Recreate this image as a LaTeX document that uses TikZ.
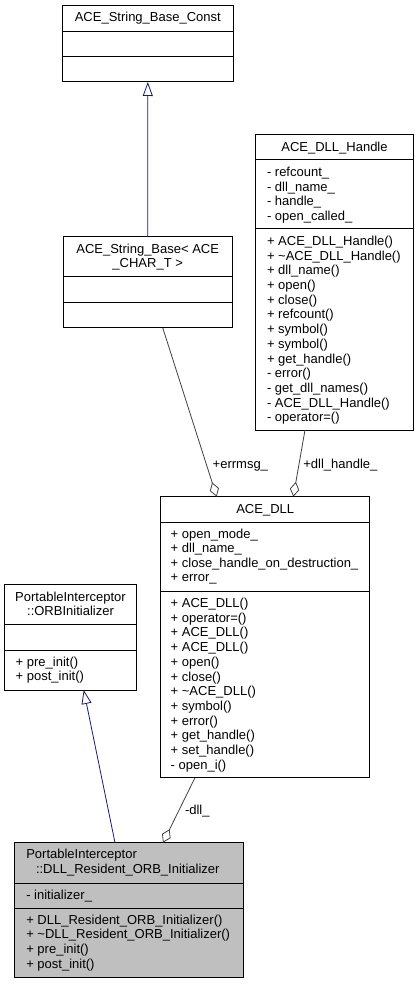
\documentclass[tikz,border=0pt]{standalone}
\usepackage{fontspec}
\setmainfont{Liberation Sans}
\usetikzlibrary{arrows.meta,calc}
\definecolor{navyline}{HTML}{191970}
\definecolor{grayline}{HTML}{404040}
\definecolor{grayfill}{HTML}{BFBFBF}
\tikzset{
  cls/.style={draw=black, line width=1pt, fill=white, rectangle, inner sep=0pt, outer sep=0pt, anchor=north west},
  divider/.style={draw=black, line width=1pt},
  txt/.style={font=\fontsize{13}{14.7}\selectfont, inner sep=0pt, outer sep=0pt},
  mem/.style={txt, anchor=base west},
  ttl/.style={txt, anchor=base},
  inh/.style={draw=navyline, line width=0.8pt, -{Triangle[open, length=14pt, width=10pt, line width=0.8pt]}},
  agg/.style={draw=grayline, line width=0.8pt, -{Diamond[open, length=15pt, width=9.5pt, line width=0.8pt]}},
  lbl/.style={txt, anchor=base west},
}
\begin{document}
\begin{tikzpicture}[x=1pt,y=-1pt]
\useasboundingbox (0,0) rectangle (419,984);

% ACE_String_Base_Const
\node[cls, minimum width=171pt, minimum height=76.3pt] (sbc) at (62.3,5.7) {};
\draw[divider] (62.3,31.3) -- (233.3,31.3);
\draw[divider] (62.3,56.7) -- (233.3,56.7);
\node[ttl] (sbc-t) at (147.8,22.0) {ACE\_String\_Base\_Const};

% ACE_String_Base< ACE_CHAR_T >
\node[cls, minimum width=168.7pt, minimum height=90.7pt] (sb) at (63.3,237) {};
\draw[divider] (63.3,276.7) -- (232,276.7);
\draw[divider] (63.3,302.3) -- (232,302.3);
\node[ttl] (sb-t1) at (147.7,253.0) {ACE\_String\_Base< ACE};
\node[ttl] (sb-t2) at (147.7,267.7) {\_CHAR\_T >};

% ACE_DLL_Handle
\node[cls, minimum width=157.6pt, minimum height=295pt] (dllh) at (255.7,135) {};
\draw[divider] (255.7,160) -- (413.3,160);
\draw[divider] (255.7,229) -- (413.3,229);
\node[ttl] (dllh-t) at (334.5,151.4) {ACE\_DLL\_Handle};
\foreach [count=\i] \t in {- refcount\_, - dll\_name\_, - handle\_, - open\_called\_}
  \node[mem] (dllh-a\i) at (267,{176.4+(\i-1)*14.67}) {\t};
\foreach [count=\i] \t in {+ ACE\_DLL\_Handle(), + \textasciitilde ACE\_DLL\_Handle(), + dll\_name(), + open(), + close(), + refcount(), + symbol(), + symbol(), + get\_handle(), - error(), - get\_dll\_names(), - ACE\_DLL\_Handle(), - operator=()}
  \node[mem] (dllh-m\i) at (267,{245.4+(\i-1)*14.7}) {\t};

% ACE_DLL
\node[cls, minimum width=209pt, minimum height=281pt] (dll) at (160.7,496.7) {};
\draw[divider] (160.7,522) -- (369.7,522);
\draw[divider] (160.7,591) -- (369.7,591);
\node[ttl] (dll-t) at (265.2,513.0) {ACE\_DLL};
\foreach [count=\i] \t in {+ open\_mode\_, + dll\_name\_, + close\_handle\_on\_destruction\_, + error\_}
  \node[mem] (dll-a\i) at (170.7,{538.4+(\i-1)*14.53}) {\t};
\foreach [count=\i] \t in {+ ACE\_DLL(), + operator=(), + ACE\_DLL(), + ACE\_DLL(), + open(), + close(), + \textasciitilde ACE\_DLL(), + symbol(), + error(), + get\_handle(), + set\_handle(), - open\_i()}
  \node[mem] (dll-m\i) at (170.7,{607.4+(\i-1)*14.73}) {\t};

% PortableInterceptor::ORBInitializer
\node[cls, minimum width=132.4pt, minimum height=105.3pt] (orb) at (4.3,584.7) {};
\draw[divider] (4.3,624.7) -- (136.7,624.7);
\draw[divider] (4.3,650) -- (136.7,650);
\node[ttl] (orb-t1) at (70.5,601.4) {PortableInterceptor};
\node[ttl] (orb-t2) at (70.5,615.0) {::ORBInitializer};
\foreach [count=\i] \t in {+ pre\_init(), + post\_init()}
  \node[mem] (orb-m\i) at (15.7,{666.2+(\i-1)*14.7}) {\t};

% PortableInterceptor::DLL_Resident_ORB_Initializer
\node[cls, fill=grayfill, minimum width=228.6pt, minimum height=134.6pt] (dri) at (14.7,842.7) {};
\draw[divider] (14.7,883.7) -- (243.3,883.7);
\draw[divider] (14.7,908.3) -- (243.3,908.3);
\node[mem] (dri-t1) at (26.3,858.7) {PortableInterceptor};
\node[mem] (dri-t2) at (36,873.7) {::DLL\_Resident\_ORB\_Initializer};
\node[mem] (dri-a1) at (26.3,899.7) {- initializer\_};
\foreach [count=\i] \t in {+ DLL\_Resident\_ORB\_Initializer(), + \textasciitilde DLL\_Resident\_ORB\_Initializer(), + pre\_init(), + post\_init()}
  \node[mem] (dri-m\i) at (26.3,{924.0+(\i-1)*14.8}) {\t};

% connectors
\draw[inh] (sb.north) -- (sbc.south);
\draw[inh] ($(dri.north west)+(100.3,0)$) -- ($(orb.south west)+(79.4,0)$);
\draw[agg] ($(sb.south west)+(99.4,0)$) -- ($(dll.north west)+(56,0)$);
\draw[agg] ($(dllh.south west)+(49.3,0)$) -- ($(dll.north west)+(132.6,0)$);
\draw[agg] ($(dll.south west)+(34.3,0)$) -- ($(dri.north west)+(148.3,0)$);

% labels
\node[lbl] (l-errmsg) at (212.7,468.0) {+errmsg\_};
\node[lbl] (l-dllh) at (303.3,468.0) {+dll\_handle\_};
\node[lbl] (l-dll) at (185,814.7) {-dll\_};
\end{tikzpicture}
\end{document}
